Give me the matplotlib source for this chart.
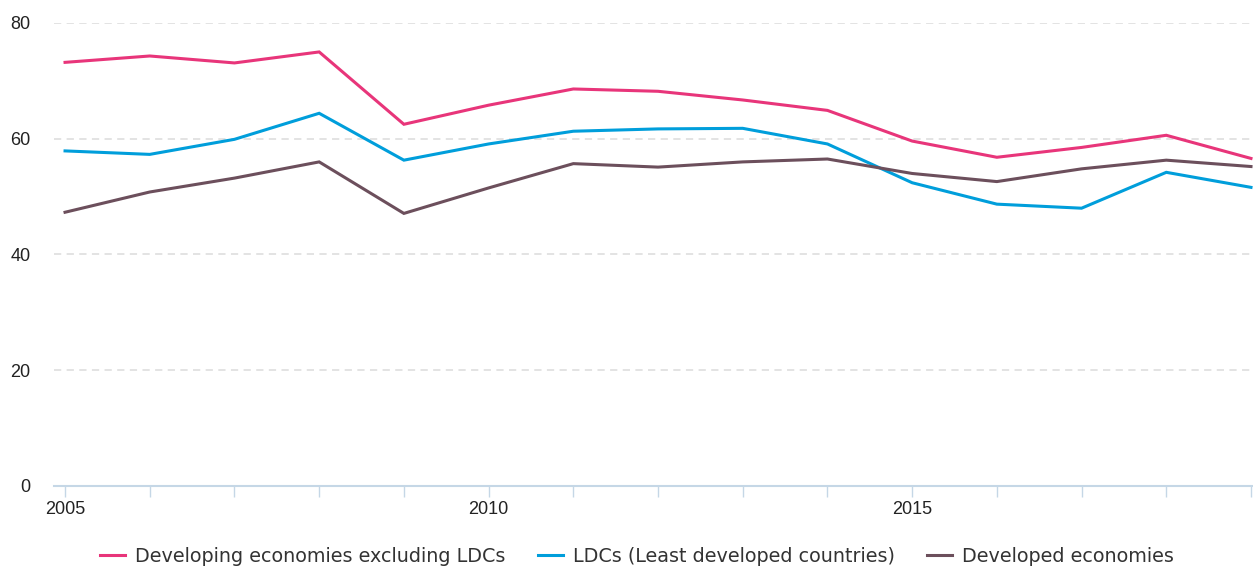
import matplotlib
matplotlib.use("Agg")
import matplotlib.pyplot as plt
from matplotlib.lines import Line2D

plt.rcParams['font.family'] = ['DejaVu Sans']

years = list(range(2005, 2020))
developing_ex_ldc = [73.2, 74.3, 73.1, 75.0, 62.5, 65.8, 68.6, 68.2, 66.7, 64.9, 59.6, 56.8, 58.5, 60.6, 56.6]
ldcs = [57.9, 57.3, 59.9, 64.4, 56.3, 59.1, 61.3, 61.7, 61.8, 59.1, 52.4, 48.7, 48.0, 54.2, 51.6]
developed = [47.3, 50.8, 53.2, 56.0, 47.1, 51.5, 55.7, 55.1, 56.0, 56.5, 54.0, 52.6, 54.8, 56.3, 55.2]
series_names = ["Developing economies excluding LDCs", "LDCs (Least developed countries)", "Developed economies"]
colors = ["#E8357A", "#009EDB", "#6C4F5C"]
yticks = [0, 20, 40, 60, 80]
xtick_labels = [2005, 2010, 2015]

W, H = 1253, 567
fig = plt.figure(figsize=(W / 100, H / 100), dpi=100)
left_px, right_px, top_px, bottom_px = 54, 1253, 23, 486
ax = fig.add_axes([left_px / W, 1 - bottom_px / H, (right_px - left_px) / W, (bottom_px - top_px) / H])

for vals, c in zip([developing_ex_ldc, ldcs, developed], colors):
    ax.plot(years, vals, color=c, lw=2.2, solid_joinstyle="miter", clip_on=False, zorder=3)

ax.set_ylim(0, 80)
ax.set_xlim(2005 - 11 / 84.4, 2019 + 2 / 84.4)
ax.set_yticks(yticks)
ax.set_yticklabels([str(v) for v in yticks])
ax.set_xticks(years)
ax.set_xticklabels([str(y) if y in xtick_labels else "" for y in years])

for y in yticks[1:]:
    ax.axhline(y, color="#E0E0E0", lw=1.3, ls=(0, (4, 3)), zorder=0)

for s in ["top", "right", "left"]:
    ax.spines[s].set_visible(False)
ax.spines["bottom"].set_color("#C5D7E6")
ax.spines["bottom"].set_linewidth(1.5)
tick_font = ['Liberation Sans', 'DejaVu Sans']
ax.tick_params(axis="x", length=8, width=1, color="#C5D7E6", labelsize=13, labelcolor="#222222", pad=3)
ax.tick_params(axis="y", length=0, labelsize=13, labelcolor="#222222", pad=17)
for lab in ax.get_xticklabels() + ax.get_yticklabels():
    lab.set_family(tick_font)

handles = [Line2D([0], [0], color=c, lw=2.2) for c in colors]
fig.legend(handles, series_names, loc="center", bbox_to_anchor=(637 / W, 1 - 556 / H), ncol=3,
           frameon=False, fontsize=13.8, handlelength=1.3, handletextpad=0.52, columnspacing=1.7,
           labelcolor="#333333")

fig.savefig("out.png", dpi=100)
